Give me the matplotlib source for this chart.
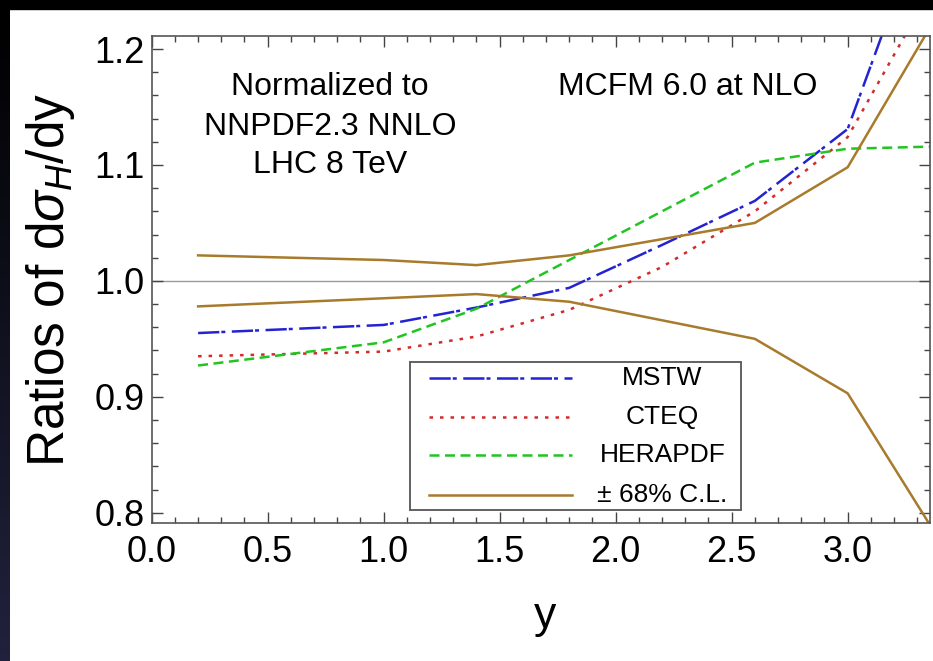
import numpy as np
import matplotlib
matplotlib.use("Agg")
from matplotlib import pyplot as plt
from matplotlib.patches import Rectangle

plt.rcParams['font.family'] = ['Liberation Sans', 'DejaVu Sans']
plt.rcParams['mathtext.fontset'] = 'custom'
plt.rcParams['mathtext.rm'] = 'Liberation Sans'
plt.rcParams['mathtext.it'] = 'Liberation Sans:italic'

# rapidity points and ratios
y_pts = [0.2, 1.0, 1.4, 1.8, 2.2, 2.6, 3.0, 3.4]
mstw = [0.955, 0.962, 0.977, 0.994, 1.031, 1.069, 1.131, 1.350]
cteq = [0.935, 0.939, 0.952, 0.975, 1.012, 1.060, 1.124, 1.266]
herapdf = [0.927, 0.947, 0.976, 1.018, 1.060, 1.102, 1.114, 1.116]
cl_upper = [1.022, 1.018, 1.0136, 1.022, 1.036, 1.050, 1.098, 1.234]
cl_lower = [0.978, 0.985, 0.9886, 0.982, 0.966, 0.950, 0.903, 0.775]

labels = ["MSTW", "CTEQ", "HERAPDF", "\u00b1 68% C.L."]

lw = 1.8
styles = [
    dict(color='#2323d2', lw=lw, ls=(0, (8.5, 0.8, 1.6, 2.6))),
    dict(color='#d42a2a', lw=lw, ls=(0, (1.4, 2.8))),
    dict(color='#22c422', lw=lw, ls=(0, (4.0, 2.2))),
    dict(color='#a87a2c', lw=lw, ls='-'),
]

fig = plt.figure(figsize=(9.33, 6.61), dpi=100)

# dark frame of the slide: black strip on top, dark gradient on left
bg = fig.add_axes([0, 0, 1, 1], zorder=-10)
bg.set_xlim(0, 933)
bg.set_ylim(661, 0)
bg.axis('off')
grad = np.linspace(0, 1, 100).reshape(-1, 1)
bg.imshow(np.dstack([grad * 0.13, grad * 0.13, grad * 0.24]),
          extent=[0, 10, 661, 0], aspect='auto')
bg.add_patch(Rectangle((0, 0), 933, 9, color='black'))

ax = fig.add_axes([0.1626, 0.2092, 0.8342, 0.7363])

ax.axhline(1.0, color='#9a9a9a', lw=1.0, zorder=1)
ax.plot(y_pts, mstw, **styles[0])
ax.plot(y_pts, cteq, **styles[1])
ax.plot(y_pts, herapdf, **styles[2])
ax.plot(y_pts, cl_upper, **styles[3])
ax.plot(y_pts, cl_lower, **styles[3])

ax.set_xlim(0, 3.355)
ax.set_ylim(0.7914, 1.2112)

ax.set_xticks(np.arange(0, 3.01, 0.5))
ax.set_xticks(np.arange(0, 3.36, 0.1), minor=True)
ax.set_yticks([0.8, 0.9, 1.0, 1.1, 1.2])
ax.set_yticks(np.arange(0.8, 1.201, 0.02), minor=True)
ax.set_xticklabels([f"{v:.1f}" for v in np.arange(0, 3.01, 0.5)])
ax.set_yticklabels(["0.8", "0.9", "1.0", "1.1", "1.2"])

ax.tick_params(which='both', direction='in', top=True, right=True,
               color='#444444', width=1.0)
ax.tick_params(which='major', length=8)
ax.tick_params(which='minor', length=4)
ax.tick_params(axis='x', labelsize=26, pad=9)
ax.tick_params(axis='y', labelsize=26, pad=5)
for s in ax.spines.values():
    s.set_color('#555555')
    s.set_linewidth(1.2)

ax.set_ylabel(r"Ratios of d$\sigma_H$/dy", fontsize=37)
ax.yaxis.set_label_coords(-0.096, 0.5)
ax.set_xlabel("y", fontsize=32)
ax.xaxis.set_label_coords(0.505, -0.15)

ax.text(0.768, 1.167, "Normalized to", fontsize=23, ha='center', va='center')
ax.text(0.768, 1.1327, "NNPDF2.3 NNLO", fontsize=23, ha='center', va='center')
ax.text(0.768, 1.0999, "LHC 8 TeV", fontsize=23, ha='center', va='center')
ax.text(2.312, 1.167, "MCFM 6.0 at NLO", fontsize=23, ha='center', va='center')

# legend box drawn by hand so the labels can be centred like the original
ax.add_patch(Rectangle((0.332, 0.026), 0.425, 0.304, transform=ax.transAxes,
                       facecolor='white', edgecolor='#555555', lw=1.3, zorder=5))
rows = [0.298, 0.218, 0.139, 0.057]
for st, lab, ry in zip(styles, labels, rows):
    ax.plot([0.356, 0.540], [ry, ry], transform=ax.transAxes, zorder=6, **st)
    ax.text(0.656, ry, lab, transform=ax.transAxes, fontsize=19,
            ha='center', va='center', zorder=6)

plt.savefig("out.png", dpi=100)
